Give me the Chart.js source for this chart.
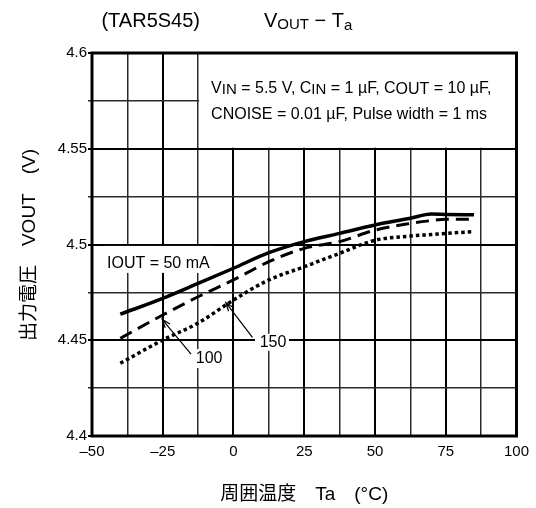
<!DOCTYPE html>
<html>
<head>
<meta charset="utf-8">
<script src="https://cdn.jsdelivr.net/npm/chart.js@4.4.1/dist/chart.umd.min.js"></script>
<style>
  html, body { margin: 0; padding: 0; background: #fff; }
  #wrap { width: 536px; height: 508px; }
</style>
</head>
<body>
<div id="wrap"><canvas id="chart" width="536" height="508"></canvas></div>
<script>
// ambient temperature (°C) and output voltage (V) per load current
const tempC   = [-40, -25, -12.5, 0, 12.5, 25, 37.5, 50, 62.5, 70, 75, 85];
const vout50  = [4.4636, 4.4719, 4.4797, 4.4876, 4.4957, 4.5015, 4.5058, 4.5102, 4.5137, 4.5159, 4.5157, 4.5155];
const vout100 = [4.4510, 4.4632, 4.4727, 4.4815, 4.4910, 4.4980, 4.5015, 4.5075, 4.5110, 4.5125, 4.5132, 4.5132];
const vout150 = [4.4380, 4.4501, 4.4590, 4.4710, 4.4815, 4.4884, 4.4954, 4.5022, 4.5044, 4.5052, 4.5058, 4.5067];

const xTicks = [-50, -25, 0, 25, 50, 75, 100];
const xTickLabels = ["\u201350", "\u201325", "0", "25", "50", "75", "100"];
const yTicks = [4.4, 4.45, 4.5, 4.55, 4.6];
const yTickLabels = ["4.4", "4.45", "4.5", "4.55", "4.6"];

const FONT = '"Liberation Sans", Arial, "Noto Sans CJK JP", sans-serif';
const font = size => size + "px " + FONT;

function findTick(list, v) {
    return list.findIndex(t => Math.abs(t - v) < 1e-6);
}

function toPoints(ys) {
    return tempC.map((t, i) => ({x: t, y: ys[i]}));
}

// draws a row of text pieces [text, size, dy] starting at x
function drawRich(ctx, x, y, parts) {
    ctx.textAlign = "left";
    ctx.textBaseline = "alphabetic";
    let cx = x;
    parts.forEach(([t, size, dy]) => {
        ctx.font = font(size);
        ctx.fillText(t, cx, y + (dy || 0));
        cx += ctx.measureText(t).width;
    });
    return cx - x;
}

function richWidth(ctx, parts) {
    let w = 0;
    parts.forEach(([t, size]) => { ctx.font = font(size); w += ctx.measureText(t).width; });
    return w;
}

function arrow(ctx, x1, y1, x2, y2) {
    ctx.save();
    ctx.strokeStyle = "#000";
    ctx.lineWidth = 1.2;
    ctx.beginPath();
    ctx.moveTo(x1, y1);
    ctx.lineTo(x2, y2);
    const a = Math.atan2(y2 - y1, x2 - x1);
    ctx.moveTo(x2 - 9 * Math.cos(a - 0.35), y2 - 9 * Math.sin(a - 0.35));
    ctx.lineTo(x2, y2);
    ctx.lineTo(x2 - 9 * Math.cos(a + 0.35), y2 - 9 * Math.sin(a + 0.35));
    ctx.stroke();
    ctx.restore();
}

const decorations = {
    id: "decorations",
    beforeDatasetsDraw(chart) {
        const {ctx, chartArea: area, scales: {x, y}} = chart;
        ctx.save();
        ctx.fillStyle = "#fff";
        // conditions box
        const bx = x.getPixelForValue(-12.5);
        ctx.fillRect(bx + 1, area.top, area.right - bx, y.getPixelForValue(4.55) - area.top - 1);
        // label backgrounds
        ctx.font = font(16);
        const lx = x.getPixelForValue(-44.7), ly = y.getPixelForValue(4.4909);
        ctx.fillRect(lx - 3, ly - 16, ctx.measureText("IOUT = 50 mA").width + 6, 27);
        const p150x = x.getPixelForValue(13.6), p150y = y.getPixelForValue(4.4492);
        ctx.fillRect(p150x - 17, p150y - 8, 34, 17);
        const p100x = x.getPixelForValue(-8.6), p100y = y.getPixelForValue(4.4407);
        ctx.fillRect(p100x - 15, p100y - 9, 31, 19);

        ctx.fillStyle = "#000";
        const tx = bx + 13;
        drawRich(ctx, tx, y.getPixelForValue(4.5793), [
            ["V", 16], ["IN", 15, 1], [" = 5.5 V, C", 16], ["IN", 15, 1], [" = 1 \u00b5F, C", 16],
            ["OUT", 16, 1], [" = 10 \u00b5F,", 16]
        ]);
        drawRich(ctx, tx, y.getPixelForValue(4.5655), [
            ["CNOISE = 0.01 \u00b5F, Pulse width = 1 ms", 16]
        ]);
        drawRich(ctx, lx, ly + 6, [["IOUT = 50 mA", 16]]);
        ctx.textAlign = "center";
        ctx.textBaseline = "middle";
        ctx.font = font(16);
        ctx.fillText("150", p150x + 1, p150y + 1);
        ctx.fillText("100", p100x, p100y + 1);
        ctx.restore();
    },
    afterDatasetsDraw(chart) {
        const {ctx, chartArea: area, scales: {x, y}} = chart;
        arrow(ctx, x.getPixelForValue(-15), y.getPixelForValue(4.4428),
                   x.getPixelForValue(-25.2), y.getPixelForValue(4.4609));
        arrow(ctx, x.getPixelForValue(6.7), y.getPixelForValue(4.4515),
                   x.getPixelForValue(-2.7), y.getPixelForValue(4.4696));
        ctx.save();
        ctx.strokeStyle = "#000";
        ctx.lineWidth = 3;
        ctx.strokeRect(area.left, area.top, area.right - area.left, area.bottom - area.top);
        ctx.fillStyle = "#000";
        // title
        ctx.font = font(20);
        ctx.textAlign = "right";
        ctx.textBaseline = "alphabetic";
        ctx.fillText("(TAR5S45)", 200, 27);
        drawRich(ctx, 264, 27, [["V", 20], ["OUT", 15, 2], [" \u2212 T", 20], ["a", 15, 3]]);
        // x axis title
        const xt = [["\u5468\u56f2\u6e29\u5ea6\u3000Ta\u3000(\u00b0C)", 19]];
        drawRich(ctx, (area.left + area.right) / 2 - richWidth(ctx, xt) / 2, 500, xt);
        // y axis title
        const yt = [["\u51fa\u529b\u96fb\u5727\u3000VOUT\u3000(V)", 19]];
        ctx.translate(35, 245);
        ctx.rotate(-Math.PI / 2);
        drawRich(ctx, -richWidth(ctx, yt) / 2, 0, yt);
        ctx.restore();
    }
};

const lineBase = {
    pointRadius: 0,
    borderColor: "#000",
    fill: false,
    cubicInterpolationMode: "monotone",
    borderCapStyle: "butt"
};

new Chart(document.getElementById("chart").getContext("2d"), {
    type: "line",
    data: {
        datasets: [
            {...lineBase, label: "50 mA", data: toPoints(vout50), borderWidth: 3.5},
            {...lineBase, label: "100 mA", data: toPoints(vout100), borderWidth: 3, borderDash: [13, 7]},
            {...lineBase, label: "150 mA", data: toPoints(vout150), borderWidth: 3.5, borderDash: [3.5, 3]}
        ]
    },
    options: {
        responsive: false,
        animation: false,
        devicePixelRatio: 1,
        layout: {padding: {top: 53, right: 17, bottom: 0, left: 0}},
        plugins: {legend: {display: false}, tooltip: {enabled: false}},
        scales: {
            x: {
                type: "linear",
                min: -50,
                max: 100,
                afterFit(s) { s.height = 72; },
                afterBuildTicks(s) {
                    s.ticks = [];
                    for (let v = -50; v <= 100; v += 12.5) s.ticks.push({value: v});
                },
                border: {display: false},
                grid: {
                    drawTicks: false,
                    color: c => findTick(xTicks, c.tick.value) >= 0 ? "#000" : "#2a2a2a",
                    lineWidth: c => findTick(xTicks, c.tick.value) >= 0 ? 2 : 1.5
                },
                ticks: {
                    autoSkip: false,
                    maxRotation: 0,
                    padding: 7,
                    color: "#000",
                    font: {family: FONT, size: 15},
                    callback: v => { const i = findTick(xTicks, v); return i >= 0 ? xTickLabels[i] : ""; }
                }
            },
            y: {
                type: "linear",
                min: 4.4,
                max: 4.6,
                afterFit(s) { s.width = 92; },
                afterBuildTicks(s) {
                    s.ticks = [];
                    for (let k = 0; k <= 8; k++) s.ticks.push({value: 4.4 + k * 0.025});
                },
                border: {display: false},
                grid: {
                    tickLength: 4,
                    color: c => findTick(yTicks, c.tick.value) >= 0 ? "#000" : "#2a2a2a",
                    lineWidth: c => findTick(yTicks, c.tick.value) >= 0 ? 2 : 1.5
                },
                ticks: {
                    autoSkip: false,
                    padding: 1,
                    color: "#000",
                    font: {family: FONT, size: 15},
                    callback: v => { const i = findTick(yTicks, v); return i >= 0 ? yTickLabels[i] : ""; }
                }
            }
        }
    },
    plugins: [decorations]
});
</script>
</body>
</html>
